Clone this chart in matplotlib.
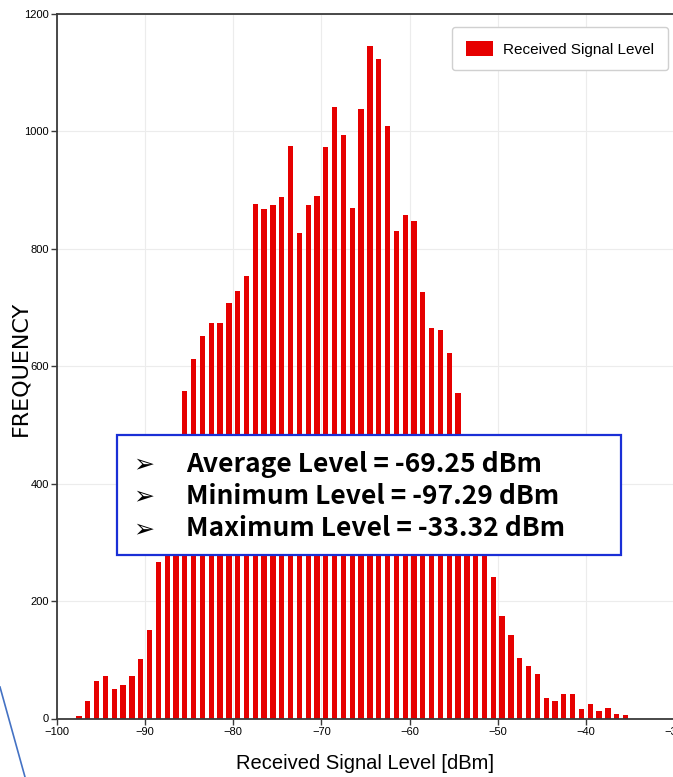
import numpy as np
import matplotlib
matplotlib.use("Agg")
import matplotlib.pyplot as plt
from matplotlib.patches import Rectangle
from matplotlib.lines import Line2D

# histogram of received level, 1 dBm bins from -98 to -35
bin_centers = np.arange(-97.5, -35.0, 1.0)
counts = [4, 29, 64, 73, 51, 57, 72, 102, 151, 266,
          370, 465, 557, 612, 652, 673, 673, 708, 729, 754,
          876, 867, 874, 888, 975, 827, 875, 890, 974, 1041,
          994, 869, 1039, 1145, 1123, 1010, 830, 857, 847, 727,
          666, 661, 623, 554, 470, 400, 320, 241, 175, 142,
          103, 90, 76, 35, 30, 42, 42, 17, 24, 13,
          18, 8, 6]

x_ticks = [-100, -90, -80, -70, -60, -50, -40, -30]
y_ticks = [0, 200, 400, 600, 800, 1000, 1200]

stats = ["Average Level = -69.25 dBm",
         "Minimum Level = -97.29 dBm",
         "Maximum Level = -33.32 dBm"]

W, H = 673, 777
narrow = ["Liberation Sans", "DejaVu Sans"]


def fx(x):
    return x / W


def fy(y):
    return 1 - y / H


fig = plt.figure(figsize=(W / 100, H / 100), dpi=100)
ax = fig.add_axes([fx(57), fy(718.5), 617 / W, 704.5 / H])

ax.bar(bin_centers, counts, width=0.6, color="#e60000", label="Received Signal Level", zorder=2)

ax.set_xlim(-100, -30)
ax.set_ylim(0, 1200)
ax.set_xticks(x_ticks)
ax.set_yticks(y_ticks)
ax.grid(True, color="#ececec", lw=0.8, zorder=0)
for s in ax.spines.values():
    s.set_color("#3a3a3a")
    s.set_linewidth(1.3)
ax.tick_params(length=4, width=1, color="#3a3a3a", labelsize=8, pad=2)
for lab in ax.get_xticklabels() + ax.get_yticklabels():
    lab.set_family(narrow)

ax.set_xlabel("Received Signal Level [dBm]", fontsize=14.5, family=narrow)
ax.xaxis.set_label_coords(0.5, (718.5 - 754) / 704.5)
ax.set_ylabel("FREQUENCY", fontsize=16)
ax.yaxis.set_label_coords((30 - 57) / 617, 0.4975)

leg = ax.legend(loc="upper right", bbox_to_anchor=(fx(668), fy(27)),
                bbox_transform=fig.transFigure, borderaxespad=0,
                prop={"family": narrow, "size": 11},
                handlelength=1.75, handleheight=1.2, handletextpad=0.7,
                borderpad=0.9, fancybox=True, edgecolor="#d0d0d0", framealpha=1)

# stats box
fig.add_artist(Rectangle((fx(117), fy(555)), fx(621) - fx(117), fy(435) - fy(555),
                         transform=fig.transFigure, facecolor="white",
                         edgecolor="#1a2fd6", lw=1.6, zorder=5))
for i, s in enumerate(stats):
    yy = fy(464 + 32.5 * i)
    fig.text(fx(133), yy, "\u27a2", fontsize=18, va="center", family=["DejaVu Sans"], zorder=6)
    fig.text(fx(186), yy, s, fontsize=19, fontweight="bold", va="center",
             family=["Noto Sans CJK KR", "DejaVu Sans"], zorder=6)

# callout line from slide
fig.add_artist(Line2D([0, fx(25)], [fy(687), 0], color="#4472c4", lw=1.2))

fig.savefig("out.png", dpi=100)
